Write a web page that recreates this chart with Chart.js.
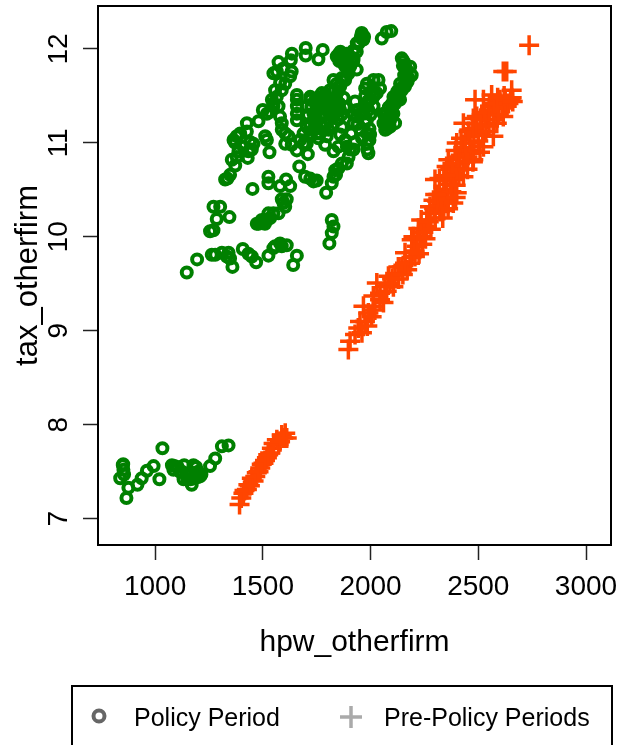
<!DOCTYPE html>
<html>
<head>
<meta charset="utf-8">
<style>html,body{margin:0;padding:0;background:#fff;overflow:hidden}canvas{display:block}</style>
<script src="https://cdn.jsdelivr.net/npm/chart.js@4"></script>
</head>
<body>
<canvas id="c" width="620" height="745"></canvas>
<script>
const xTickValues = [1000, 1500, 2000, 2500, 3000];
const yTickValues = [7, 8, 9, 10, 11, 12];
const xTitle = "hpw_otherfirm";
const yTitle = "tax_otherfirm";
const policyLabel = "Policy Period";
const prePolicyLabel = "Pre-Policy Periods";
const policyX = [838,850,853,856,867,876,918,938,962,993,1020,1034,1078,1085,1116,1135,1132,1163,1170,1178,1186,1209,1255,1279,1310,1341,
1090,1105,1125,1145,1150,1165,1180,1195,1200,1190,1215,852,
1147,1195,1263,1279,1333,1359,1341,1407,1449,1469,1526,1549,1588,1611,1658,1641,1271,1302,1345,1286,1271,1255,1488,1503,1519,1534,1573,1604,1611,1588,1526,1526,1608,1580,1627,1452,1336,1348,1372,1387,1430,1449,1441,1379,1372,1426,1426,1480,1500,1534,1542,1573,1511,1519,1531,1565,1573,1635,1630,1627,1580,1699,1699,1778,1758,1557,1658,1658,1658,1588,1604,1604,1658,1673,1709,1704,1669,1720,1735,1794,1820,1836,1851,1890,1905,1882,1828,1789,1805,1859,1928,1990,1983,1998,1928,1975,2014,2037,2044,1959,1967,2052,2075,2096,1867,1890,1936,1936,1898,1843,1812,1774,1720,1735,1766,1797,1828,1859,1743,1766,1921,1952,1983,2014,2153,2168,2176,2145,2122,2099,2091,2068,2075,2106,2137,1820,1828,1820,1809,
1751,1781,1812,1859,1882,1913,1851,1874,1735,1828,1781,1704,1751,1952,1983,2014,2130,2114,2075,2156,1867,1983,1840,1549,
1710,1725,1740,1750,1760,1770,1775,1785,1795,1800,1810,1815,1825,1835,1840,1850,1855,1865,1875,1880,1720,1735,1755,1790,1830,1720,
1850,1860,1870,1885,1895,1905,1920,1880,1855,1860,1875,1900,1920,1945,1955,1970,
2150,2160,2165,2172,2160,2150,2135,2125,2115,2110,2100,2095,2085,2085,2070,2065,2075,2090,
1910,1920,1940,1960,1975,1990,2000,1995,1985,1995,1990,2005,2020,1975,1480,1495,1510,
1395,1364,1410,1457,1433,1356,1379,1325,1519,1549,1565,1588,1604,1549,1593,1634,1580,1588,1619,1634,1689,1689,1658,1658,1720,1704,1704,1758,1797,1851,1890,1921,1898,1867,1828,1750,1696,1526,1549,1472,1596,1310,1348,1433,1580,1557,
1843,1867,1921,1905,1936,1959,1828,1867,1789,1983,2029,1998,1967,1936,1936,
2145,2184,2191,2160,2137,2106,2114,2060,2060];
const policyY = [7.43,7.57,7.52,7.47,7.22,7.33,7.36,7.43,7.51,7.56,7.42,7.75,7.57,7.52,7.50,7.57,7.42,7.47,7.36,7.57,7.49,7.45,7.56,7.64,7.77,7.78,
7.56,7.55,7.50,7.48,7.42,7.42,7.43,7.44,7.50,7.55,7.47,7.58,
9.62,9.76,9.81,9.81,9.79,9.68,9.83,9.87,9.79,9.73,9.80,9.88,9.90,9.91,9.80,9.70,10.32,10.32,10.21,10.19,10.07,10.06,10.15,10.16,10.18,10.20,10.25,10.32,10.40,10.40,10.64,10.57,10.61,10.54,10.54,10.51,10.62,10.66,10.76,10.91,10.84,10.93,11.01,11.07,11.00,11.21,11.12,11.23,11.35,11.33,11.46,11.39,11.07,11.03,10.90,11.76,11.86,11.95,11.88,11.71,11.64,12.01,11.93,11.99,11.89,11.56,11.51,11.39,11.24,11.21,11.10,10.99,10.92,11.03,10.88,10.99,10.75,10.62,10.59,10.47,10.57,10.71,10.73,10.78,10.93,11.03,10.91,10.98,11.14,11.09,11.01,10.89,10.99,11.09,11.44,11.58,11.67,11.67,11.58,12.11,12.10,12.11,12.18,12.19,11.92,11.95,11.97,11.78,11.74,11.63,11.56,11.53,11.46,11.31,11.28,11.39,11.28,11.35,11.17,11.10,11.21,11.31,11.42,11.39,11.87,11.78,11.69,11.56,11.46,11.35,11.24,11.14,11.31,11.49,11.63,10.18,10.11,10.04,9.93,
11.39,11.28,11.32,11.60,11.67,11.85,11.94,11.87,11.24,11.42,11.46,11.39,11.10,11.14,11.24,11.49,11.53,11.42,11.19,11.72,11.17,11.10,10.66,11.42,
11.30,11.38,11.44,11.25,11.35,11.18,11.42,11.30,11.20,11.46,11.25,11.38,11.18,11.34,11.48,11.25,11.42,11.30,11.48,11.38,11.20,11.14,11.48,11.52,11.55,11.10,
11.55,11.62,11.68,11.70,11.78,11.82,11.90,11.82,11.87,11.97,11.95,11.93,11.98,12.06,12.13,12.13,
11.82,11.83,11.74,11.65,11.62,11.60,11.55,11.55,11.50,11.44,11.42,11.30,11.28,11.38,11.25,11.20,11.15,11.17,
11.10,11.30,11.20,11.05,11.22,11.35,11.30,11.15,10.93,11.03,11.45,11.55,11.52,11.50,10.14,10.18,10.14,
11.10,11.03,10.96,10.99,10.91,10.82,10.85,10.61,11.31,11.39,11.49,11.56,11.63,11.74,11.79,11.76,11.28,11.14,11.07,10.98,10.99,11.10,11.46,11.31,11.49,11.28,11.17,11.05,11.07,10.96,10.96,10.93,10.85,10.78,10.64,10.60,10.64,10.25,10.25,10.14,10.36,9.83,9.77,9.82,9.93,9.90,
11.92,11.87,11.88,11.81,12.06,12.17,11.67,11.69,11.49,11.63,11.53,11.46,11.31,11.28,11.35,
11.90,11.81,11.72,11.60,11.46,11.31,11.21,11.21,11.31];
const prePolicyX = [1392,1410,1433,1449,1472,1503,1519,1542,1565,1588,1604,1426,1457,1488,1534,1573,1611,
1400,1415,1440,1465,1480,1495,1510,1525,1550,1580,1595,
1897,1905,1928,1943,1974,1967,1990,2029,2044,2013,2044,2106,2114,2145,2183,2206,2214,2230,2199,2222,2261,2276,2322,2276,2338,2315,2353,2400,2299,2384,2353,2431,2415,2477,2361,2400,2462,2524,2431,2500,2477,2485,2562,2516,2555,2586,2570,2616,2632,2655,2616,2632,2736,2655,
2524,2601,2462,2431,2369,2292,2261,2191,2160,2129,2083,2067,2013,1951,2493,2539,2586,
1960,1985,2005,2020,2060,2075,2090,2100,2130,2150,2170,2160,2190,2205,2225,2240,2215,2245,2255,2280,2235,2270,2300,2295,2320,2340,2310,2330,2360,2345,2375,2370,2395,2340,2385,2410,2370,2400,2430,2380,2440,2405,2450,2395,2430,2470,2440,2480,2420,2500,2455,2520,2475,2535,2490,2550,2510,2570,2530,2595,2550,2610,2575,2625,2590,2640,2620,2650,2660,
2384,2508,2360,2335,2300,2320,2350,2395,2450,2475];
const prePolicyY = [7.15,7.27,7.36,7.43,7.49,7.59,7.65,7.75,7.84,7.89,7.91,7.31,7.40,7.54,7.70,7.79,7.86,
7.22,7.30,7.35,7.45,7.50,7.58,7.62,7.68,7.80,7.82,7.86,
8.80,8.89,8.96,9.03,9.10,9.26,9.19,9.51,9.40,9.26,9.33,9.47,9.61,9.68,9.72,9.79,9.90,10.00,10.00,10.09,10.11,10.25,10.27,10.32,10.36,10.45,10.50,10.47,10.61,10.61,10.75,10.64,10.78,10.82,10.82,11.00,10.89,10.96,11.21,11.10,11.26,11.46,11.51,11.30,11.39,11.21,11.07,11.28,11.39,11.48,11.76,11.76,12.04,11.56,
11.46,11.46,11.07,10.89,10.64,10.39,10.18,9.97,9.83,9.68,9.58,9.47,9.37,9.10,11.28,11.25,11.37,
8.98,9.05,9.15,9.22,9.30,9.42,9.50,9.55,9.55,9.60,9.65,9.72,9.78,9.85,9.82,9.92,9.98,10.05,9.98,10.08,10.18,10.16,10.20,10.30,10.33,10.28,10.38,10.42,10.40,10.50,10.48,10.56,10.55,10.60,10.68,10.65,10.72,10.72,10.72,10.78,10.80,10.85,10.85,10.92,10.95,10.92,11.00,11.00,11.05,11.02,11.12,11.08,11.15,11.12,11.20,11.18,11.25,11.25,11.32,11.30,11.35,11.38,11.42,11.44,11.48,11.42,11.50,11.46,11.44,
10.36,10.90,10.30,10.20,10.45,10.62,10.65,10.42,10.72,10.80];

const green = "#008000", orange = "#FF4500", ink = "#000";
const fontFamily = "'Liberation Sans', Arial, sans-serif";

const framePlugin = {
  id: "frame",
  afterDraw(chart) {
    const a = chart.chartArea, ctx = chart.ctx;
    ctx.save();
    ctx.strokeStyle = ink; ctx.lineWidth = 2;
    ctx.strokeRect(a.left, a.top, a.right - a.left, a.bottom - a.top);
    // legend box (runs off the bottom edge, as in the reference)
    ctx.strokeRect(72, 686, 540, 80);
    ctx.strokeStyle = "#666"; ctx.lineWidth = 4;
    ctx.beginPath(); ctx.arc(99, 716, 5.5, 0, Math.PI*2); ctx.stroke();
    ctx.strokeStyle = "#aaa"; ctx.lineWidth = 3.5;
    ctx.beginPath(); ctx.moveTo(340,717); ctx.lineTo(362,717); ctx.moveTo(351,706); ctx.lineTo(351,728); ctx.stroke();
    ctx.fillStyle = ink; ctx.font = "25px " + fontFamily;
    ctx.textAlign = "left"; ctx.textBaseline = "middle";
    ctx.fillText(policyLabel, 134, 719);
    ctx.fillText(prePolicyLabel, 384, 719);
    ctx.restore();
  }
};

new Chart(document.getElementById("c"), {
  type: "scatter",
  data: { datasets: [
    { label: policyLabel, data: policyX.map((x,i)=>({x, y: policyY[i]})), pointStyle:"circle", pointRadius:5, pointBorderWidth:4, pointBackgroundColor:"transparent", pointBorderColor:green, showLine:false },
    { label: prePolicyLabel, data: prePolicyX.map((x,i)=>({x, y: prePolicyY[i]})), pointStyle:"cross", pointRadius:10, pointBorderWidth:3.5, pointBorderColor:orange, showLine:false }
  ]},
  options: {
    responsive:false, animation:false,
    layout:{autoPadding:false, padding:{left:0,right:9,top:6,bottom:84}},
    plugins:{legend:{display:false}, tooltip:{enabled:false}},
    scales:{
      x:{ type:"linear", min:735, max:3116,
        afterBuildTicks(s){ s.ticks = xTickValues.map(v=>({value:v})); },
        afterFit(s){ s.height = 116; s.paddingLeft = 0; s.paddingRight = 0; },
        grid:{drawOnChartArea:false, drawTicks:true, tickLength:15, tickWidth:1.5, tickColor:"#222", color:ink},
        border:{display:true, color:ink, width:2},
        ticks:{color:ink, font:{family:fontFamily,size:28}, padding:10, maxRotation:0, autoSkip:false, callback:v=>String(v)},
        title:{display:true, text:xTitle, color:ink, font:{family:fontFamily,size:30}, padding:{top:0,bottom:0}}
      },
      y:{ type:"linear", min:6.72, max:12.457,
        afterBuildTicks(s){ s.ticks = yTickValues.map(v=>({value:v})); },
        afterFit(s){ s.width = 98; s.paddingTop = 0; s.paddingBottom = 0; },
        grid:{drawOnChartArea:false, drawTicks:true, tickLength:15, tickWidth:1.5, tickColor:"#222", color:ink},
        border:{display:true, color:ink, width:2},
        ticks:{color:ink, font:{family:fontFamily,size:28}, padding:8, minRotation:90, maxRotation:90, crossAlign:"center", autoSkip:false, callback:v=>String(v)},
        title:{display:true, text:yTitle, color:ink, font:{family:fontFamily,size:31}, padding:{top:10,bottom:0}}
      }
    }
  },
  plugins:[framePlugin]
});
</script>
</body>
</html>
